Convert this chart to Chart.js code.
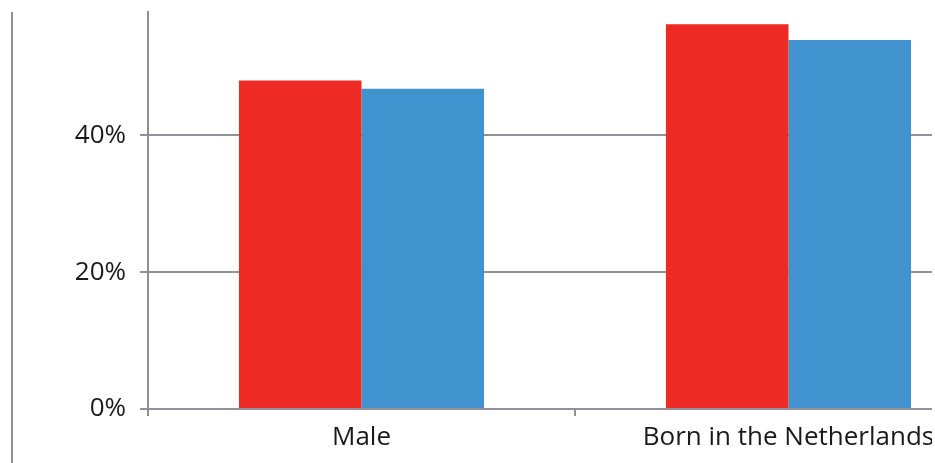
<!DOCTYPE html>
<html>
<head>
<meta charset="utf-8">
<script src="https://cdn.jsdelivr.net/npm/chart.js@4/dist/chart.umd.min.js"></script>
<style>
  html, body { margin: 0; padding: 0; background: #fff; }
  #wrap { position: relative; width: 932px; height: 463px; overflow: hidden; }
  #frame { position: absolute; left: 11px; top: 12px; width: 2px; height: 451px; background: #8f9196; }
  #box { position: absolute; left: 0; top: 0; width: 1004px; height: 463px; }
</style>
</head>
<body>
<div id="wrap">
  <div id="frame"></div>
  <div id="box"><canvas id="c"></canvas></div>
</div>
<script>
// Share of respondents per group (%)
const categories = ['Male', 'Born in the Netherlands'];
const seriesA = [48.0, 56.2];
const seriesB = [46.8, 53.9];
const yTicks = [0, 20, 40];
const yMax = 58;

const AXIS = '#8f9196';
const FONT = { family: 'Open Sans', size: 26 };

new Chart(document.getElementById('c'), {
  type: 'bar',
  data: {
    labels: categories,
    datasets: [
      { data: seriesA, backgroundColor: '#ee2a25', borderWidth: 0 },
      { data: seriesB, backgroundColor: '#4093cf', borderWidth: 0 }
    ]
  },
  options: {
    responsive: true,
    maintainAspectRatio: false,
    animation: false,
    events: [],
    layout: { padding: { top: 12, right: 2, left: 0, bottom: 0 } },
    plugins: { legend: { display: false }, tooltip: { enabled: false } },
    datasets: { bar: { categoryPercentage: 0.574, barPercentage: 1.0 } },
    scales: {
      x: {
        offset: true,
        grid: { offset: true, drawOnChartArea: false, drawTicks: true, tickLength: 7, color: AXIS, lineWidth: 2 },
        border: { display: true, color: AXIS, width: 2 },
        ticks: { color: '#1a1a1a', font: FONT, padding: 6, maxRotation: 0 },
        afterFit: s => { s.height = 54; s.paddingLeft = 0; s.paddingRight = 0; }
      },
      y: {
        min: 0,
        max: yMax,
        grid: { color: AXIS, lineWidth: 2, tickLength: 8 },
        border: { display: true, color: AXIS, width: 2 },
        ticks: { color: '#1a1a1a', font: FONT, padding: 14, stepSize: 20, callback: v => v + '%' },
        afterBuildTicks: s => { s.ticks = yTicks.map(v => ({ value: v })); },
        afterFit: s => { s.width = 148; s.paddingTop = 0; s.paddingBottom = 0; }
      }
    }
  }
});
</script>
</body>
</html>
